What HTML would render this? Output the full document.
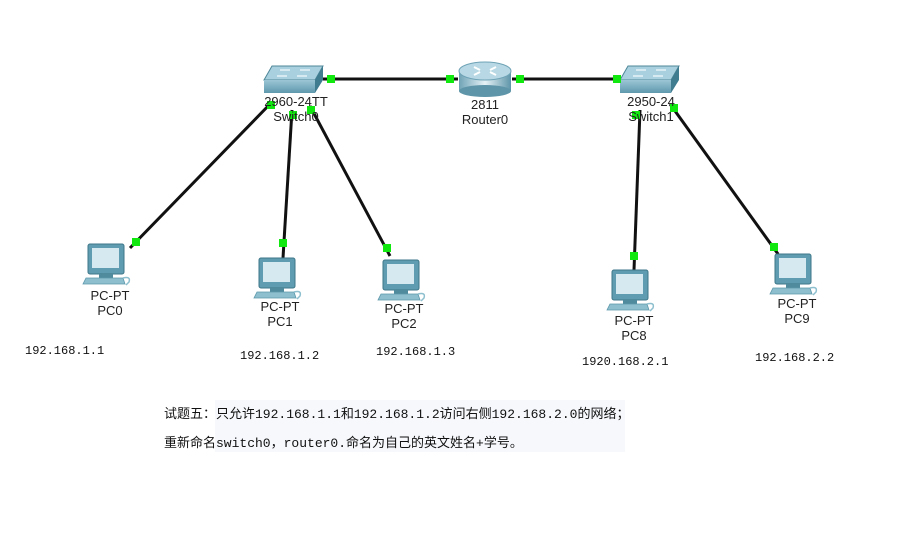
<!DOCTYPE html>
<html><head><meta charset="utf-8"><style>
html,body{margin:0;padding:0;background:#fff;}
svg{display:block;font-family:"Liberation Sans",sans-serif;}
.l{font-size:13px;fill:#222;text-anchor:middle;}
.ip{font-family:"Liberation Mono","Noto Sans CJK SC",monospace;font-size:12px;fill:#111;}
.cn{font-family:"Liberation Mono","Noto Sans CJK SC",sans-serif;font-size:13px;fill:#111;}
</style></head><body>
<svg width="921" height="539" viewBox="0 0 921 539">
<defs>
<linearGradient id="sw" x1="0" y1="0" x2="0" y2="1"><stop offset="0" stop-color="#9cc6d6"/><stop offset="1" stop-color="#5f98ad"/></linearGradient>
<linearGradient id="rt" x1="0" y1="0" x2="1" y2="0"><stop offset="0" stop-color="#6fa3b6"/><stop offset="0.5" stop-color="#e6f2f6"/><stop offset="1" stop-color="#5e95a9"/></linearGradient>
<g id="pc">
<rect x="5" y="0" width="36" height="30" rx="2" fill="#5f9cb1" stroke="#3d7688"/>
<rect x="9" y="4" width="27" height="20" fill="#d6e9f0"/>
<rect x="16" y="30" width="14" height="4" fill="#4f8a9d"/>
<polygon points="3,34 40,34 42,40 0,40" fill="#8dbfce" stroke="#5d98ab" stroke-width="0.8"/>
<path d="M40,34 q8,-2 6,4 l-3,3" fill="none" stroke="#8dbfce" stroke-width="1.5"/>
</g>
<g id="dot"><rect x="-4" y="-4" width="8" height="8" fill="#10e810"/></g>
</defs>
<rect x="215" y="400" width="410" height="52" fill="#f6f8fc"/>
<g stroke="#111" stroke-width="3">
<line x1="323" y1="79" x2="458" y2="79"/>
<line x1="512" y1="79" x2="620" y2="79"/>
<line x1="272" y1="102" x2="130" y2="248"/>
<line x1="292" y1="110" x2="283" y2="258"/>
<line x1="310" y1="106" x2="390" y2="256"/>
<line x1="640" y1="110" x2="634" y2="270"/>
<line x1="670" y1="104" x2="778" y2="254"/>
</g>
<!-- switch0 -->
<polygon points="272,66 323,66 315,80 264,80" fill="#a9d0de" stroke="#4f8799"/>
<rect x="264" y="80" width="51" height="13" fill="url(#sw)"/>
<polygon points="315,80 323,66 323,80 315,93" fill="#3f7c90"/>
<path d="M280,70h10M300,70h10M277,76h10M297,76h10" stroke="#e8f3f7" stroke-width="1.5"/>
<!-- switch1 -->
<polygon points="628,66 679,66 671,80 620,80" fill="#a9d0de" stroke="#4f8799"/>
<rect x="620" y="80" width="51" height="13" fill="url(#sw)"/>
<polygon points="671,80 679,66 679,80 671,93" fill="#3f7c90"/>
<path d="M636,70h10M656,70h10M633,76h10M653,76h10" stroke="#e8f3f7" stroke-width="1.5"/>
<!-- router -->
<rect x="459" y="71" width="52" height="20" fill="url(#rt)"/>
<ellipse cx="485" cy="91" rx="26" ry="6" fill="#5e95a9"/>
<ellipse cx="485" cy="71" rx="26" ry="9" fill="#b7d8e4" stroke="#6fa3b6"/>
<path d="M474,67l6,3M496,67l-6,3M474,75l6,-3M496,75l-6,-3" stroke="#fff" stroke-width="2"/>
<use href="#dot" x="331" y="79"/><use href="#dot" x="450" y="79"/>
<use href="#dot" x="520" y="79"/><use href="#dot" x="617" y="79"/>
<use href="#dot" x="271" y="105"/><use href="#dot" x="293" y="115"/><use href="#dot" x="311" y="110"/>
<use href="#dot" x="636" y="115"/><use href="#dot" x="674" y="108"/>
<use href="#dot" x="136" y="242"/><use href="#dot" x="283" y="243"/><use href="#dot" x="387" y="248"/>
<use href="#dot" x="634" y="256"/><use href="#dot" x="774" y="247"/>
<text class="l" x="296" y="106">2960-24TT</text><text class="l" x="296" y="121">Switch0</text>
<text class="l" x="485" y="109">2811</text><text class="l" x="485" y="124">Router0</text>
<text class="l" x="651" y="106">2950-24</text><text class="l" x="651" y="121">Switch1</text>
<use href="#pc" x="83" y="244"/><use href="#pc" x="254" y="258"/><use href="#pc" x="378" y="260"/>
<use href="#pc" x="607" y="270"/><use href="#pc" x="770" y="254"/>
<text class="l" x="110" y="300">PC-PT</text><text class="l" x="110" y="315">PC0</text>
<text class="l" x="280" y="311">PC-PT</text><text class="l" x="280" y="326">PC1</text>
<text class="l" x="404" y="313">PC-PT</text><text class="l" x="404" y="328">PC2</text>
<text class="l" x="634" y="325">PC-PT</text><text class="l" x="634" y="340">PC8</text>
<text class="l" x="797" y="308">PC-PT</text><text class="l" x="797" y="323">PC9</text>
<text class="ip" x="25" y="354">192.168.1.1</text>
<text class="ip" x="240" y="359">192.168.1.2</text>
<text class="ip" x="376" y="355">192.168.1.3</text>
<text class="ip" x="582" y="365">1920.168.2.1</text>
<text class="ip" x="755" y="361">192.168.2.2</text>
<text class="cn" x="164" y="418">试题五：只允许192.168.1.1和192.168.1.2访问右侧192.168.2.0的网络；</text>
<text class="cn" x="164" y="447">重新命名switch0，router0.命名为自己的英文姓名+学号。</text>
</svg>
</body></html>
